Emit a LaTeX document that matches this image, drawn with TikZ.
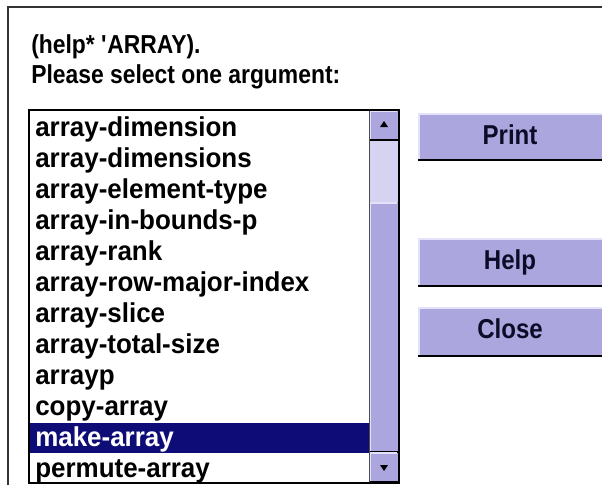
\documentclass[tikz,border=0pt]{standalone}
\usepackage{fontspec}
\setmainfont{Liberation Sans}[FakeStretch=0.88]
\newfontfamily\listfont{Liberation Sans}[FakeStretch=0.95]
\definecolor{lavender}{RGB}{172,166,222}
\definecolor{lightlav}{RGB}{214,210,242}
\definecolor{btnhi}{RGB}{228,226,250}
\definecolor{selblue}{RGB}{14,12,118}
\definecolor{btntext}{RGB}{12,12,40}
\begin{document}
\begin{tikzpicture}[x=0.75pt, y=-0.75pt,
    txt/.style={anchor=base west, inner sep=0pt, font=\fontsize{19.5}{23}\selectfont\bfseries},
    itemtxt/.style={anchor=base west, inner sep=0pt, font=\listfont\fontsize{20.5}{24}\selectfont\bfseries},
    btnlabel/.style={anchor=base, inner sep=0pt, text=btntext, font=\fontsize{20.5}{24}\selectfont\bfseries},
    hiedge/.style={btnhi, line width=1.5pt},
    loedge/.style={black, line width=1.5pt}]
    \useasboundingbox (0,0) rectangle (602,485);
    \fill[white] (0,0) rectangle (602,485);
    % dialog frame
    \draw[line width=1.5pt, black!80] (8,485) -- (8,7) -- (602,7);
    \node[txt] (title) at (31,54) {(help* \textquotesingle ARRAY).};
    \node[txt] (prompt) at (31,83) {Please select one argument:};
    % list box
    \begin{scope}
        \clip (29,110) rectangle (369,483);
        \fill[selblue] (29,423) rectangle (369,453);
        \foreach \item[count=\i from 0] in {array-dimension, array-dimensions,
            array-element-type, array-in-bounds-p, array-rank, array-row-major-index,
            array-slice, array-total-size, arrayp, copy-array, make-array, permute-array} {
            \ifnum\i=10 \def\col{white}\else\def\col{black}\fi
            \node[itemtxt, text=\col] (item\i) at (35, 136+31*\i) {\item};
        }
    \end{scope}
    % scroll bar
    \fill[lavender] (369,110) rectangle (398,141);
    \fill[lightlav] (369,141) rectangle (398,202);
    \fill[lavender] (369,202) rectangle (398,483);
    \foreach \top/\bot in {111/140, 203/452, 453/482} {
        \draw[hiedge] (370,\bot) -- (370,\top) -- (397,\top);
        \draw[loedge] (370,\bot) -- (398,\bot);
    }
    \draw[black!70, line width=0.75pt] (369,110) -- (369,483);
    \fill (384,121) -- (388,127) -- (380,127) -- cycle;
    \fill (384,471) -- (388,465) -- (380,465) -- cycle;
    \draw[line width=1.5pt] (29,110) rectangle (399,483);
    % buttons
    \foreach \lbl/\top/\bot in {Print/113/161, Help/238/287, Close/307/357} {
        \fill[lavender] (418,\top) rectangle (603,\bot);
        \draw[hiedge] (419,\bot) -- (419,\top+1) -- (603,\top+1);
        \draw[loedge] (418,\bot-1) -- (603,\bot-1);
        \node[btnlabel] (\lbl) at (510,\top+31) {\lbl};
    }
\end{tikzpicture}
\end{document}
